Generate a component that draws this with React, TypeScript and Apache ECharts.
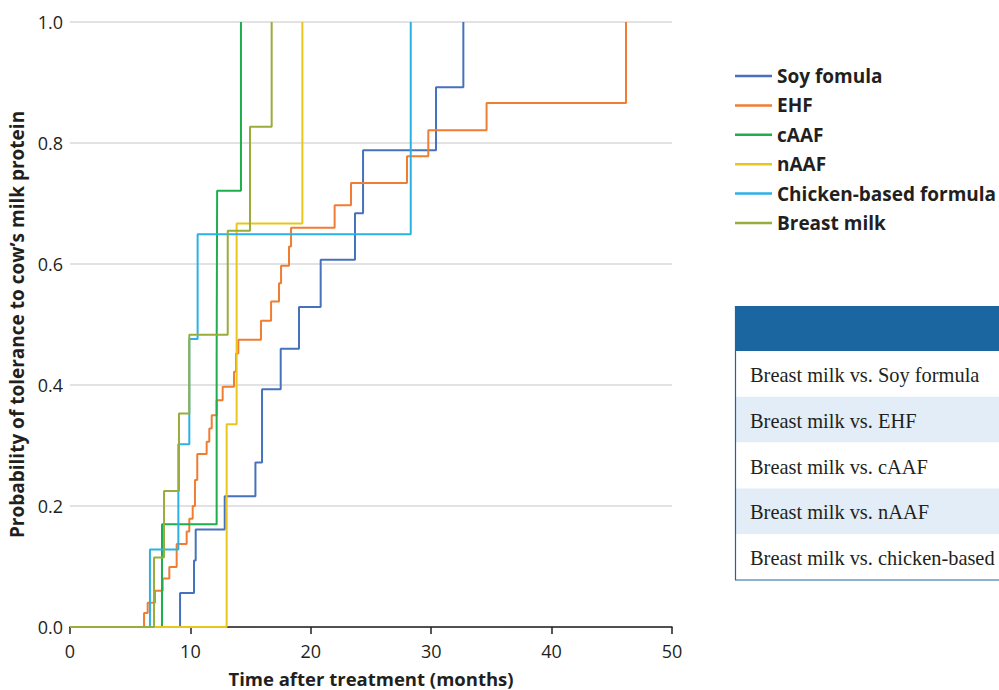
import React, { useEffect, useRef } from "react";
import * as echarts from "echarts";

const seriesNames = ["Soy fomula", "EHF", "cAAF", "nAAF", "Chicken-based formula", "Breast milk"];
const seriesColors = ["#4672bd", "#ef7d32", "#1fae4e", "#eac51b", "#2cb1e6", "#98ad3b"];

const soyMonths = [0, 9.14, 10.3, 10.44, 12.85, 15.4, 15.95, 17.5, 19.02, 20.82, 23.67, 24.34, 30.4, 32.67];
const soyProb = [0, 0.056, 0.11, 0.161, 0.216, 0.272, 0.393, 0.46, 0.529, 0.607, 0.684, 0.788, 0.892, 1.0];

const ehfMonths = [0, 6.15, 6.45, 7.06, 7.7, 8.25, 8.86, 9.69, 9.91, 10.19, 10.38, 10.57, 11.35, 11.57, 11.77, 12.18, 12.68, 13.62, 13.79, 13.98, 15.86, 16.7, 17.36, 17.53, 18.19, 18.36, 21.98, 23.34, 27.99, 29.76, 34.6, 46.18];
const ehfProb = [0, 0.023, 0.04, 0.06, 0.08, 0.099, 0.137, 0.158, 0.179, 0.2, 0.243, 0.286, 0.306, 0.328, 0.35, 0.375, 0.397, 0.422, 0.452, 0.475, 0.506, 0.538, 0.568, 0.597, 0.629, 0.66, 0.697, 0.734, 0.778, 0.821, 0.866, 1.0];

const caafMonths = [0, 7.64, 12.18, 12.22, 14.2];
const caafProb = [0, 0.17, 0.447, 0.721, 1.0];

const naafMonths = [0, 13.01, 13.84, 19.3];
const naafProb = [0, 0.335, 0.667, 1.0];

const chickenMonths = [0, 6.64, 9.0, 9.91, 10.6, 28.3];
const chickenProb = [0, 0.128, 0.302, 0.476, 0.649, 1.0];

const breastMonths = [0, 6.98, 7.81, 9.05, 9.91, 13.1, 14.95, 16.75];
const breastProb = [0, 0.115, 0.225, 0.353, 0.483, 0.655, 0.827, 1.0];

const xTicks = [0, 10, 20, 30, 40, 50];
const yTicks = [0, 0.2, 0.4, 0.6, 0.8, 1.0];

const tableRows = [
  "Breast milk vs. Soy formula",
  "Breast milk vs. EHF",
  "Breast milk vs. cAAF",
  "Breast milk vs. nAAF",
  "Breast milk vs. chicken-based",
];

const allMonths = [soyMonths, ehfMonths, caafMonths, naafMonths, chickenMonths, breastMonths];
const allProb = [soyProb, ehfProb, caafProb, naafProb, chickenProb, breastProb];

const SANS = "'Open Sans', 'Noto Sans', sans-serif";
const SERIF = "'Liberation Serif', 'DejaVu Serif', serif";

export default function App() {
  const ref = useRef<HTMLDivElement>(null);

  useEffect(() => {
    document.body.style.margin = "0";
    const chart = echarts.init(ref.current!, null, { renderer: "svg" });

    const series = seriesNames.map((name, i) => ({
      name,
      type: "line",
      step: "end",
      showSymbol: false,
      symbol: "none",
      data: allMonths[i].map((m, j) => [m, allProb[i][j]]),
      lineStyle: { color: seriesColors[i], width: 2 },
      itemStyle: { color: seriesColors[i] },
      z: 2 + i,
    }));

    const tableX = 735;
    const tableTop = 306;
    const headerH = 45;
    const rowH = 45.8;
    const graphic: any[] = [];
    graphic.push({
      type: "rect",
      shape: { x: tableX, y: tableTop, width: 300, height: headerH },
      style: { fill: "#1b66a1" },
    });
    tableRows.forEach((t, i) => {
      const y = tableTop + headerH + i * rowH;
      graphic.push({
        type: "rect",
        shape: { x: tableX, y, width: 300, height: rowH },
        style: { fill: i % 2 === 1 ? "#e2edf7" : "#ffffff" },
      });
      graphic.push({
        type: "text",
        x: 750,
        y: y + rowH / 2 + 1,
        style: {
          text: t,
          font: `20.4px ${SERIF}`,
          fill: "#231f20",
          verticalAlign: "middle",
          align: "left",
        },
      });
    });
    const tableBottom = tableTop + headerH + tableRows.length * rowH;
    graphic.push({
      type: "line",
      shape: { x1: tableX + 0.5, y1: tableTop, x2: tableX + 0.5, y2: tableBottom },
      style: { stroke: "#1b66a1", lineWidth: 1.2 },
    });
    graphic.push({
      type: "line",
      shape: { x1: tableX, y1: tableBottom, x2: 1000, y2: tableBottom },
      style: { stroke: "#1b66a1", lineWidth: 1.2 },
    });

    chart.setOption({
      animation: false,
      backgroundColor: "#ffffff",
      grid: {
        left: 70,
        top: 22,
        width: 602,
        height: 605,
        containLabel: false,
        outerBoundsMode: "none",
      },
      xAxis: {
        type: "value",
        min: xTicks[0],
        max: xTicks[xTicks.length - 1],
        interval: 10,
        name: "Time after treatment (months)",
        nameLocation: "middle",
        nameGap: 42,
        nameTextStyle: { fontFamily: SANS, fontWeight: "bold", fontSize: 18.5, color: "#231f20" },
        axisLine: { show: true, lineStyle: { color: "#231f20", width: 1.5 } },
        axisTick: { show: true, length: 7, lineStyle: { color: "#231f20", width: 1.5 } },
        axisLabel: { fontFamily: SANS, fontSize: 18, color: "#231f20", margin: 15 },
        splitLine: { show: false },
      },
      yAxis: {
        type: "value",
        min: yTicks[0],
        max: yTicks[yTicks.length - 1],
        interval: 0.2,
        name: "Probability of tolerance to cow’s milk protein",
        nameLocation: "middle",
        nameGap: 43,
        nameTextStyle: { fontFamily: SANS, fontWeight: "bold", fontSize: 19, color: "#231f20" },
        axisLine: { show: false },
        axisTick: { show: false },
        axisLabel: {
          fontFamily: SANS,
          fontSize: 18,
          color: "#231f20",
          margin: 7,
          formatter: (v: number) => v.toFixed(1),
        },
        splitLine: { show: true, lineStyle: { color: "#d9d9d9", width: 1.5 } },
      },
      legend: {
        orient: "vertical",
        left: 735,
        top: 65,
        padding: 0,
        itemGap: 7.4,
        itemWidth: 37,
        itemHeight: 2.5,
        icon: "rect",
        data: seriesNames,
        textStyle: {
          fontFamily: SANS,
          fontWeight: "bold",
          fontSize: 19,
          lineHeight: 22,
          color: "#231f20",
        },
      },
      series,
      graphic,
    });

    return () => chart.dispose();
  }, []);

  return (
    <div
      ref={ref}
      style={{ position: "fixed", left: 0, top: 0, width: 999, height: 690 }}
    />
  );
}
